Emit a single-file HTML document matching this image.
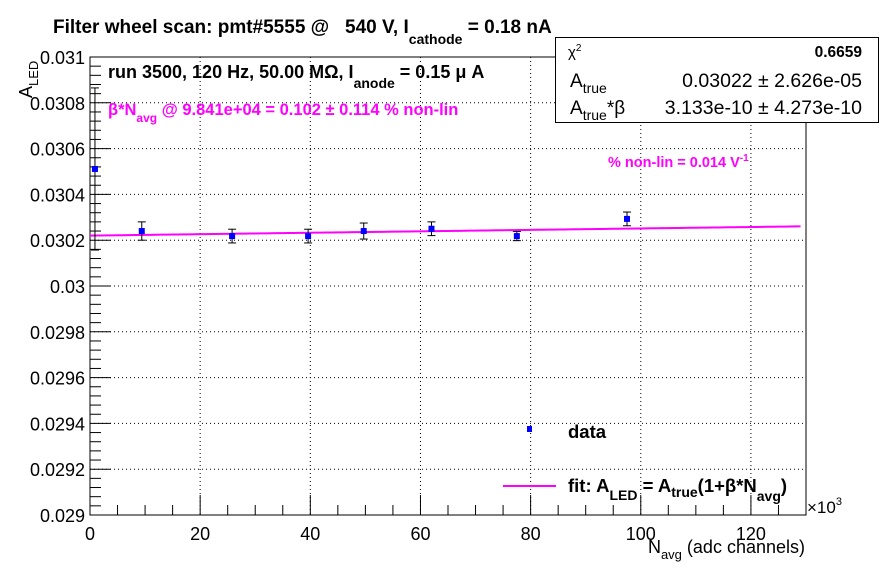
<!DOCTYPE html>
<html><head><meta charset="utf-8"><style>
body{margin:0;background:#fff}
svg{display:block;font-family:"Liberation Sans",sans-serif}
.b{font-weight:bold}
text{white-space:pre}
</style></head><body>
<svg id="chart" width="896" height="572" viewBox="0 0 896 572">
<rect width="896" height="572" fill="#fff"/>
<g id="grid"></g>
<g id="axes"></g>
<g id="fit"></g>
<g id="pts"></g>
<text x="53" y="33" font-size="19" class="b" xml:space="preserve">Filter wheel scan: pmt#5555 @   540 V, I<tspan font-size="14" dy="11">cathode</tspan><tspan dy="-11"> = 0.18 nA</tspan></text>
<text x="108" y="78" font-size="18" class="b">run 3500, 120 Hz, 50.00 MΩ, I<tspan font-size="14" dy="10">anode</tspan><tspan dy="-10"> = 0.15 μ A</tspan></text>
<text x="108" y="115" font-size="16.5" class="b" fill="#ff00ff">β*N<tspan font-size="12" dy="7">avg</tspan><tspan dy="-7"> @ 9.841e+04 = 0.102 ± 0.114 % non-lin</tspan></text>
<text x="608" y="167" font-size="14.5" class="b" fill="#ff00ff">% non-lin = 0.014 V<tspan font-size="10" dy="-6">-1</tspan></text>
<g>
<rect x="555.5" y="37.5" width="323" height="85" fill="#fff" stroke="#000"/>
<text x="568" y="57" font-size="15">χ<tspan font-size="10" dy="-6">2</tspan></text>
<text x="862" y="57" font-size="15.5" class="b" text-anchor="end">0.6659</text>
<text x="570" y="87" font-size="19">A<tspan font-size="14" dy="6">true</tspan></text>
<text x="862" y="87" font-size="19.5" text-anchor="end">0.03022 ± 2.626e-05</text>
<text x="570" y="114" font-size="19">A<tspan font-size="14" dy="6">true</tspan><tspan dy="-6">*β</tspan></text>
<text x="862" y="114" font-size="19.5" text-anchor="end">3.133e-10 ± 4.273e-10</text>
</g>
<g>
<rect x="527" y="426" width="5" height="6" fill="#0000ff"/>
<text x="568" y="438" font-size="18.5" class="b">data</text>
<line x1="503" y1="486" x2="556" y2="486" stroke="#ff00ff" stroke-width="2"/>
<text x="568" y="492" font-size="18.5" class="b">fit: A<tspan font-size="14" dy="8">LED</tspan><tspan dy="-8"> = A</tspan><tspan font-size="14" dy="5">true</tspan><tspan dy="-5">(1+β*N</tspan><tspan font-size="14" dy="9">avg</tspan><tspan dy="-9">)</tspan></text>
</g>
<text x="807" y="513" font-size="17">×10<tspan font-size="11" dy="-8">3</tspan></text>
<text x="805" y="553" font-size="18" text-anchor="end">N<tspan font-size="13" dy="6">avg</tspan><tspan dy="-6"> (adc channels)</tspan></text>
<text transform="translate(32,98) rotate(-90)" font-size="18">A<tspan font-size="13" dy="6">LED</tspan></text>
</svg>
<script>
const xs=[0.9,9.4,25.8,39.6,49.7,62.0,77.5,97.5];
const ys=[0.030511,0.030240,0.030218,0.030218,0.030240,0.030250,0.030218,0.030293];
const errs=[0.000354,0.000040,0.000030,0.000030,0.000035,0.000030,0.000020,0.000030];
const fitA=0.03022;
const fitAB=3.133e-10;
const xTicks=[0,20,40,60,80,100,120];
const yTicks=[0.029,0.0292,0.0294,0.0296,0.0298,0.03,0.0302,0.0304,0.0306,0.0308,0.031];
const yTickLabels=["0.029","0.0292","0.0294","0.0296","0.0298","0.03","0.0302","0.0304","0.0306","0.0308","0.031"];
const L=90,R=806,T=57,B=515,xMin=0,xMax=130,yMin=0.029,yMax=0.031;
const sx=v=>L+(v-xMin)/(xMax-xMin)*(R-L);
const sy=v=>B-(v-yMin)/(yMax-yMin)*(B-T);
const NS="http://www.w3.org/2000/svg";
function mk(p,t,a){const e=document.createElementNS(NS,t);for(const k in a)e.setAttribute(k,a[k]);p.appendChild(e);return e;}
const grid=document.getElementById('grid'),axes=document.getElementById('axes'),pts=document.getElementById('pts'),fit=document.getElementById('fit');
xTicks.forEach(v=>{if(v>0){const g=mk(grid,'line',{x1:sx(v),x2:sx(v),y1:T,y2:B,stroke:'#000','stroke-dasharray':'1,3'});

}
const t=mk(axes,'text',{x:sx(v),y:B+25,'font-size':18,'text-anchor':'middle'});t.textContent=v;

});
for(let v=0;v<=130;v+=5){const big=v%20===0;mk(axes,'line',{x1:sx(v),x2:sx(v),y1:B,y2:B-(big?20:10),stroke:'#000'});}
yTicks.forEach((v,i)=>{if(i>0&&i<yTicks.length-1){const g=mk(grid,'line',{x1:L,x2:R,y1:sy(v),y2:sy(v),stroke:'#000','stroke-dasharray':'1,3'});

}
const t=mk(axes,'text',{x:L-5,y:sy(v)+7,'font-size':18,'text-anchor':'end'});t.textContent=yTickLabels[i];

});
for(let k=0;k<=50;k++){const v=yMin+k*0.00004;const big=k%5===0;mk(axes,'line',{x1:L,x2:L+(big?21:11),y1:sy(v),y2:sy(v),stroke:'#000'});}
mk(axes,'rect',{x:L,y:T,width:R-L,height:B-T,fill:'none',stroke:'#000'});
const fp=[];for(let v=0;v<=129;v+=1)fp.push(sx(v)+','+sy(fitA+fitAB*v*1000));
const pl=mk(fit,'polyline',{points:fp.join(' '),fill:'none',stroke:'#ff00ff','stroke-width':2});


xs.forEach((x,i)=>{const cx=sx(x),cy=sy(ys[i]),e1=sy(ys[i]+errs[i]),e2=sy(ys[i]-errs[i]);
const g=mk(pts,'g',{});


mk(g,'line',{x1:cx,x2:cx,y1:e1,y2:e2,stroke:'#000'});
mk(g,'line',{x1:cx-4,x2:cx+4,y1:e1,y2:e1,stroke:'#000'});
mk(g,'line',{x1:cx-4,x2:cx+4,y1:e2,y2:e2,stroke:'#000'});
mk(g,'rect',{x:cx-3,y:cy-3,width:6,height:6,fill:'#0000ff'});});
</script>
</body></html>
